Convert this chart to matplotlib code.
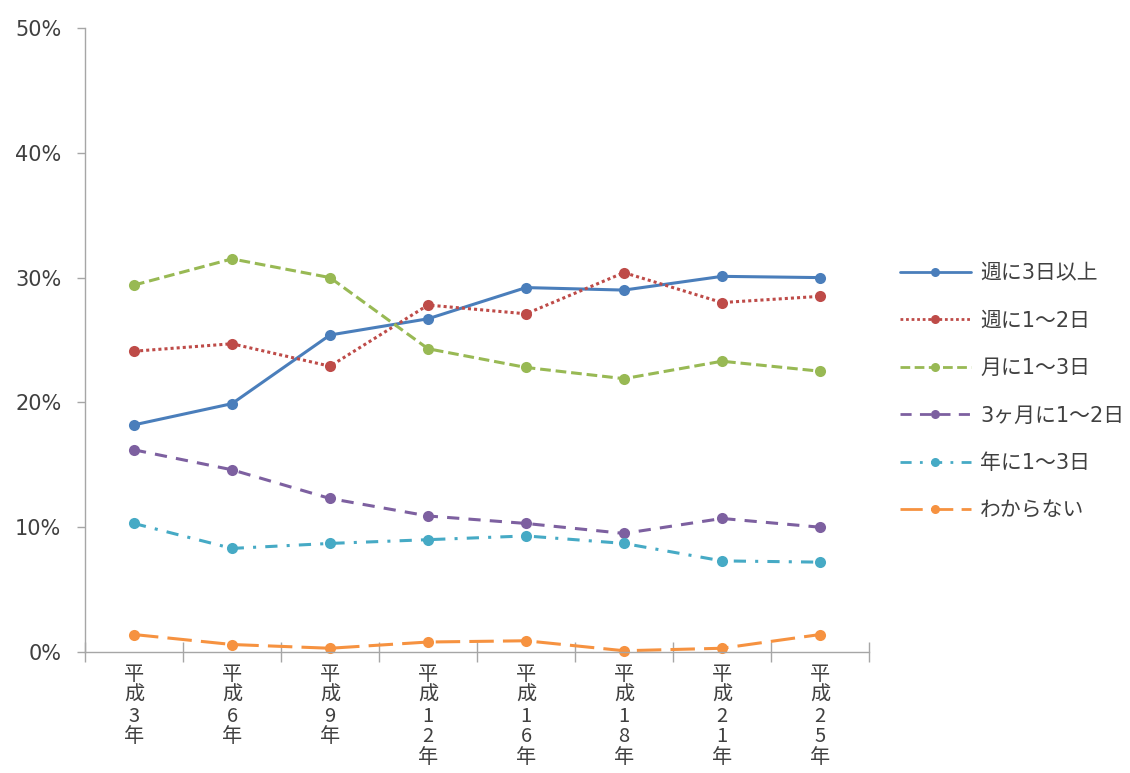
import matplotlib
matplotlib.use("Agg")
import matplotlib.pyplot as plt
from matplotlib.ticker import FixedLocator, FuncFormatter, NullFormatter

# Survey years (Heisei era)
years = ["平成3年", "平成6年", "平成9年", "平成12年", "平成16年", "平成18年", "平成21年", "平成25年"]

# Share of respondents by frequency (%)
weekly_3plus = [18.2, 19.9, 25.4, 26.7, 29.2, 29.0, 30.1, 30.0]
weekly_1to2 = [24.1, 24.7, 22.9, 27.8, 27.1, 30.4, 28.0, 28.5]
monthly_1to3 = [29.4, 31.5, 30.0, 24.3, 22.8, 21.9, 23.3, 22.5]
quarterly_1to2 = [16.2, 14.6, 12.3, 10.9, 10.3, 9.5, 10.7, 10.0]
yearly_1to3 = [10.3, 8.3, 8.7, 9.0, 9.3, 8.7, 7.3, 7.2]
unknown = [1.4, 0.6, 0.3, 0.8, 0.9, 0.1, 0.3, 1.4]

series_labels = ["週に3日以上", "週に1～2日", "月に1～3日", "3ヶ月に1～2日", "年に1～3日", "わからない"]
series_values = [weekly_3plus, weekly_1to2, monthly_1to3, quarterly_1to2, yearly_1to3, unknown]

colors = ["#4A7EBB", "#BE4B48", "#98B954", "#7D60A0", "#46AAC5", "#F69240"]
styles = [
    "-",
    (0, (1, 1)),
    (0, (3.5, 1.6)),
    (0, (4, 3)),
    (0, (4, 3, 1, 3)),
    (0, (8, 3)),
]

text_color = "#404040"
axis_color = "#A6A6A6"
latin_cjk = ["DejaVu Sans", "Noto Sans CJK JP"]

fig = plt.figure(figsize=(11.30, 7.73), dpi=100)
ax = fig.add_axes([85 / 1130, 1 - 652 / 773, (869 - 85) / 1130, (652 - 28) / 773])

x = list(range(len(years)))
for vals, lab, col, ls in zip(series_values, series_labels, colors, styles):
    ax.plot(x, vals, color=col, linestyle=ls, linewidth=2.2,
            marker="o", markersize=8, markeredgewidth=0, label=lab,
            dash_capstyle="butt", solid_capstyle="round", clip_on=False)

ax.set_xlim(-0.5, len(years) - 0.5)
ax.set_ylim(0, 50)

# y axis
ax.set_yticks(range(0, 51, 10))
ax.yaxis.set_major_formatter(FuncFormatter(lambda v, p: f"{int(v)}%"))
ax.tick_params(axis="y", direction="out", length=6, width=1, color=axis_color,
               labelcolor=text_color, labelsize=15, pad=11)
for t in ax.get_yticklabels():
    t.set_family(latin_cjk)

# x axis: ticks on category boundaries, labels stacked vertically at centers
ax.xaxis.set_major_locator(FixedLocator(x))
ax.set_xticklabels(["\n".join(list(y)) for y in years], family="Noto Sans CJK JP",
                   fontsize=14.5, color=text_color, linespacing=0.97, va="top")
ax.tick_params(axis="x", which="major", length=0, pad=9)
ax.xaxis.set_minor_locator(FixedLocator([i - 0.5 for i in range(len(years) + 1)]))
ax.xaxis.set_minor_formatter(NullFormatter())
ax.tick_params(axis="x", which="minor", direction="inout", length=14, width=1, color=axis_color)

for side in ("top", "right"):
    ax.spines[side].set_visible(False)
for side in ("left", "bottom"):
    ax.spines[side].set_color(axis_color)
    ax.spines[side].set_linewidth(1)

leg = fig.legend(loc="upper left", bbox_to_anchor=(900 / 1130, 1 - 263 / 773),
                 frameon=False, handlelength=3.4, handletextpad=0.45,
                 labelspacing=1.32, borderpad=0, borderaxespad=0,
                 prop={"family": latin_cjk, "size": 15})
for t in leg.get_texts():
    t.set_color(text_color)
for h in leg.legend_handles:
    h.set_markersize(6.5)
    h.set_linewidth(2)

fig.savefig("out.png", dpi=100, facecolor="white")
